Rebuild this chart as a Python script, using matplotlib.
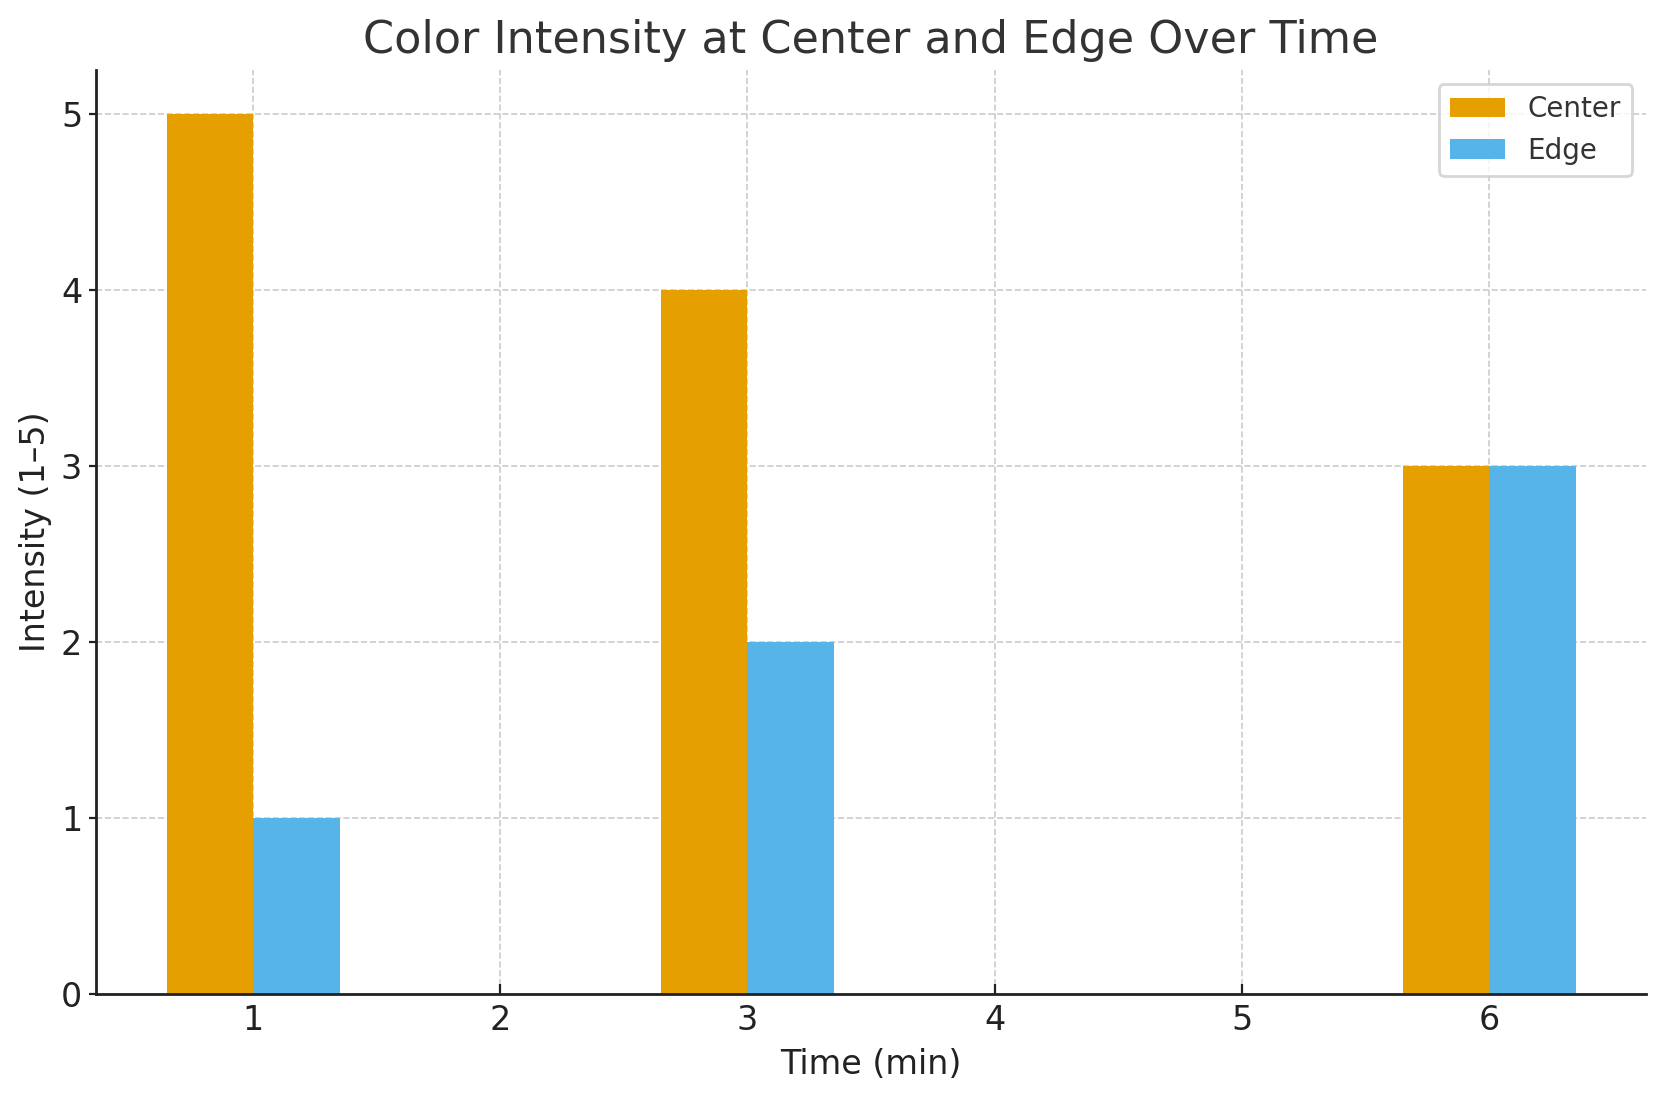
import numpy as np
import matplotlib.pyplot as plt

# data
times = [1, 3, 6]
center = [5, 4, 3]
edge = [1, 2, 3]
xticks = [1, 2, 3, 4, 5, 6]

width = 0.35
x = np.array(times)

fig = plt.figure(figsize=(1665 / 200, 1101 / 200), dpi=200)
ax = fig.add_axes([0.0577, 0.0972, 0.9309, 0.8392])

ax.bar(x - width / 2, center, width, color='#E69F00', label='Center', zorder=2)
ax.bar(x + width / 2, edge, width, color='#56B4E9', label='Edge', zorder=2)

ax.set_xticks(xticks)
ax.set_yticks(range(0, 6))
ax.tick_params(axis='both', labelsize=12, colors='#222222')
ax.tick_params(axis='x', direction='in')
ax.tick_params(axis='y', length=2.5, pad=2.5)

ax.set_title('Color Intensity at Center and Edge Over Time', fontsize=16, color='#333333')
ax.set_xlabel('Time (min)', fontsize=12, color='#222222')
ax.set_ylabel('Intensity (1–5)', fontsize=12, color='#222222', labelpad=3)

ax.grid(True, linestyle='--', color='#cccccc', linewidth=0.6, zorder=0)
ax.set_axisbelow(True)

for s in ['top', 'right']:
    ax.spines[s].set_visible(False)
for s in ['left', 'bottom']:
    ax.spines[s].set_color('#222222')
    ax.spines[s].set_linewidth(1.0)

leg = ax.legend(loc='upper right', fontsize=10, frameon=True, fancybox=True)
leg.get_frame().set_edgecolor('#cccccc')
for t in leg.get_texts():
    t.set_color('#333333')

fig.savefig('out.png', dpi=200)
